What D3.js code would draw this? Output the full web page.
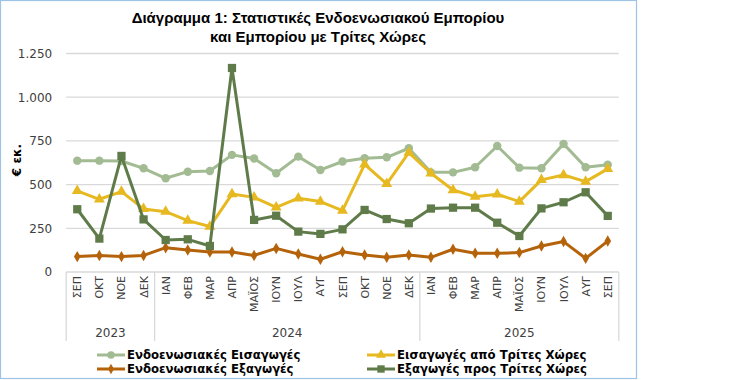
<!DOCTYPE html>
<html>
<head>
<meta charset="utf-8">
<script src="https://cdn.jsdelivr.net/npm/d3@7"></script>
<style>
  body { margin: 0; background: #fff; }
</style>
</head>
<body>
<div id="chart-container"></div>
<script>
// Chart data (€ εκ.)
var months = ["ΣΕΠ", "ΟΚΤ", "ΝΟΕ", "ΔΕΚ", "ΙΑΝ", "ΦΕΒ", "ΜΑΡ", "ΑΠΡ", "ΜΑΪΟΣ", "ΙΟΥΝ", "ΙΟΥΛ", "ΑΥΓ",
  "ΣΕΠ", "ΟΚΤ", "ΝΟΕ", "ΔΕΚ", "ΙΑΝ", "ΦΕΒ", "ΜΑΡ", "ΑΠΡ", "ΜΑΪΟΣ", "ΙΟΥΝ", "ΙΟΥΛ", "ΑΥΓ", "ΣΕΠ"];
var years = ["2023", "2024", "2025"];
var yearCounts = [4, 12, 9];

var intraImports = [637, 637, 635, 593, 536, 574, 578, 670, 649, 565, 660, 584, 632, 651, 656, 708, 570, 570, 599, 721, 597, 593, 733, 599, 614];
var thirdImports = [464, 416, 460, 361, 345, 294, 260, 446, 427, 370, 422, 403, 351, 616, 504, 683, 565, 469, 431, 445, 403, 527, 555, 517, 590];
var intraExports = [88, 95, 88, 95, 139, 126, 114, 114, 95, 135, 103, 73, 116, 97, 84, 97, 84, 130, 107, 107, 111, 149, 174, 78, 177];
var thirdExports = [359, 191, 664, 301, 183, 187, 149, 1167, 298, 322, 231, 218, 244, 355, 303, 279, 363, 368, 368, 282, 206, 364, 399, 456, 321];

var yTicks = [0, 250, 500, 750, 1000, 1250];

// Series definitions
var series = [
  { name: "Ενδοενωσιακές Εισαγωγές", values: intraImports, color: "#a2bb93", symbol: d3.symbolCircle, size: 56 },
  { name: "Εισαγωγές από Τρίτες Χώρες", values: thirdImports, color: "#e7b921", symbol: d3.symbolTriangle, size: 52 },
  { name: "Ενδοενωσιακές Εξαγωγές", values: intraExports, color: "#b5630b", symbol: d3.symbolDiamond, size: 38 },
  { name: "Εξαγωγές προς Τρίτες Χώρες", values: thirdExports, color: "#5f7b4a", symbol: d3.symbolSquare, size: 68 }
];

var width = 729, height = 380;
var plot = { left: 66.2, right: 618.8, top: 53.5, bottom: 272 };
var keys = months.map((m, i) => i);

var x = d3.scaleBand().domain(keys).range([plot.left, plot.right]).padding(0);
var y = d3.scaleLinear().domain([0, 1250]).range([plot.bottom, plot.top]);
var cx = i => x(i) + x.bandwidth() / 2;

var svg = d3.select("#chart-container").append("svg")
  .attr("width", width)
  .attr("height", height)
  .style("font-family", "'DejaVu Sans', Verdana, sans-serif");

svg.append("rect").attr("width", width).attr("height", height).attr("fill", "#fff");

// Chart frame
svg.append("rect")
  .attr("x", 0.5).attr("y", 0.5)
  .attr("width", 636).attr("height", 378)
  .attr("fill", "none")
  .attr("stroke", "#9dc3e6")
  .attr("stroke-width", 1.2);

// Title
var title = svg.append("text")
  .attr("text-anchor", "middle")
  .attr("font-family", "'Liberation Sans', Arial, sans-serif")
  .attr("font-weight", "bold")
  .attr("font-size", 15)
  .attr("fill", "#000");
title.append("tspan").attr("x", 318).attr("y", 23).text("Διάγραμμα 1: Στατιστικές Ενδοενωσιακού Εμπορίου");
title.append("tspan").attr("x", 318).attr("y", 42).text("και Εμπορίου με Τρίτες Χώρες");

// Gridlines
svg.append("g")
  .selectAll("line")
  .data(yTicks)
  .join("line")
  .attr("x1", plot.left).attr("x2", plot.right)
  .attr("y1", d => y(d)).attr("y2", d => y(d))
  .attr("stroke", "#d9d9d9")
  .attr("stroke-width", 1.3);

// Y axis labels
var yAxis = svg.append("g")
  .attr("transform", `translate(${plot.left - 11},0)`)
  .call(d3.axisLeft(y).tickValues(yTicks).tickSize(0).tickFormat(d => d3.format(",")(d).replace(/,/g, ".")));
yAxis.select(".domain").remove();
yAxis.selectAll("text")
  .attr("font-size", 12)
  .attr("font-family", "'DejaVu Sans', Verdana, sans-serif")
  .attr("fill", "#404040");

svg.append("text")
  .attr("transform", "translate(21,160) rotate(-90)")
  .attr("text-anchor", "middle")
  .attr("font-weight", "bold")
  .attr("font-size", 12)
  .attr("fill", "#000")
  .text("€ εκ.");

// Category axis: month labels
svg.append("g")
  .selectAll("text")
  .data(keys)
  .join("text")
  .attr("transform", d => `translate(${cx(d) + 4},276) rotate(-90)`)
  .attr("text-anchor", "end")
  .attr("font-size", 11)
  .attr("fill", "#404040")
  .text(d => months[d]);

// Category axis: year group separators and labels
var starts = [0];
yearCounts.forEach((c, i) => starts.push(starts[i] + c));
var sepX = starts.map(s => s < keys.length ? x(s) : plot.right);

svg.append("g")
  .selectAll("line")
  .data(sepX)
  .join("line")
  .attr("x1", d => d).attr("x2", d => d)
  .attr("y1", plot.bottom).attr("y2", 341)
  .attr("stroke", "#d9d9d9")
  .attr("stroke-width", 1.3);

svg.append("g")
  .selectAll("text")
  .data(years)
  .join("text")
  .attr("x", (d, i) => (sepX[i] + sepX[i + 1]) / 2)
  .attr("y", 337)
  .attr("text-anchor", "middle")
  .attr("font-size", 12)
  .attr("fill", "#404040")
  .text(d => d);

// Lines and markers
var line = d3.line().x((d, i) => cx(i)).y(d => y(d));

series.forEach(s => {
  var g = svg.append("g");
  g.append("path")
    .datum(s.values)
    .attr("d", line)
    .attr("fill", "none")
    .attr("stroke", s.color)
    .attr("stroke-width", 3)
    .attr("stroke-linejoin", "round");
  g.selectAll("path.marker")
    .data(s.values)
    .join("path")
    .attr("class", "marker")
    .attr("transform", (d, i) => `translate(${cx(i)},${y(d)})`)
    .attr("d", d3.symbol().type(s.symbol).size(s.size))
    .attr("fill", s.color);
});

// Legend
var legendPos = [
  { x: 97, y: 355 }, { x: 367, y: 355 },
  { x: 97, y: 369 }, { x: 367, y: 369 }
];
var legend = svg.append("g")
  .selectAll("g")
  .data(series)
  .join("g")
  .attr("transform", (d, i) => `translate(${legendPos[i].x},${legendPos[i].y})`);

legend.append("line")
  .attr("x1", 0).attr("x2", 28)
  .attr("stroke", d => d.color)
  .attr("stroke-width", 3);
legend.append("path")
  .attr("transform", "translate(14,0)")
  .attr("d", d => d3.symbol().type(d.symbol).size(d.size * 0.8)())
  .attr("fill", d => d.color);
legend.append("text")
  .attr("x", 30)
  .attr("dy", "0.35em")
  .attr("font-weight", "bold")
  .attr("font-size", 11.7)
  .attr("fill", "#000")
  .text(d => d.name);
</script>
</body>
</html>
